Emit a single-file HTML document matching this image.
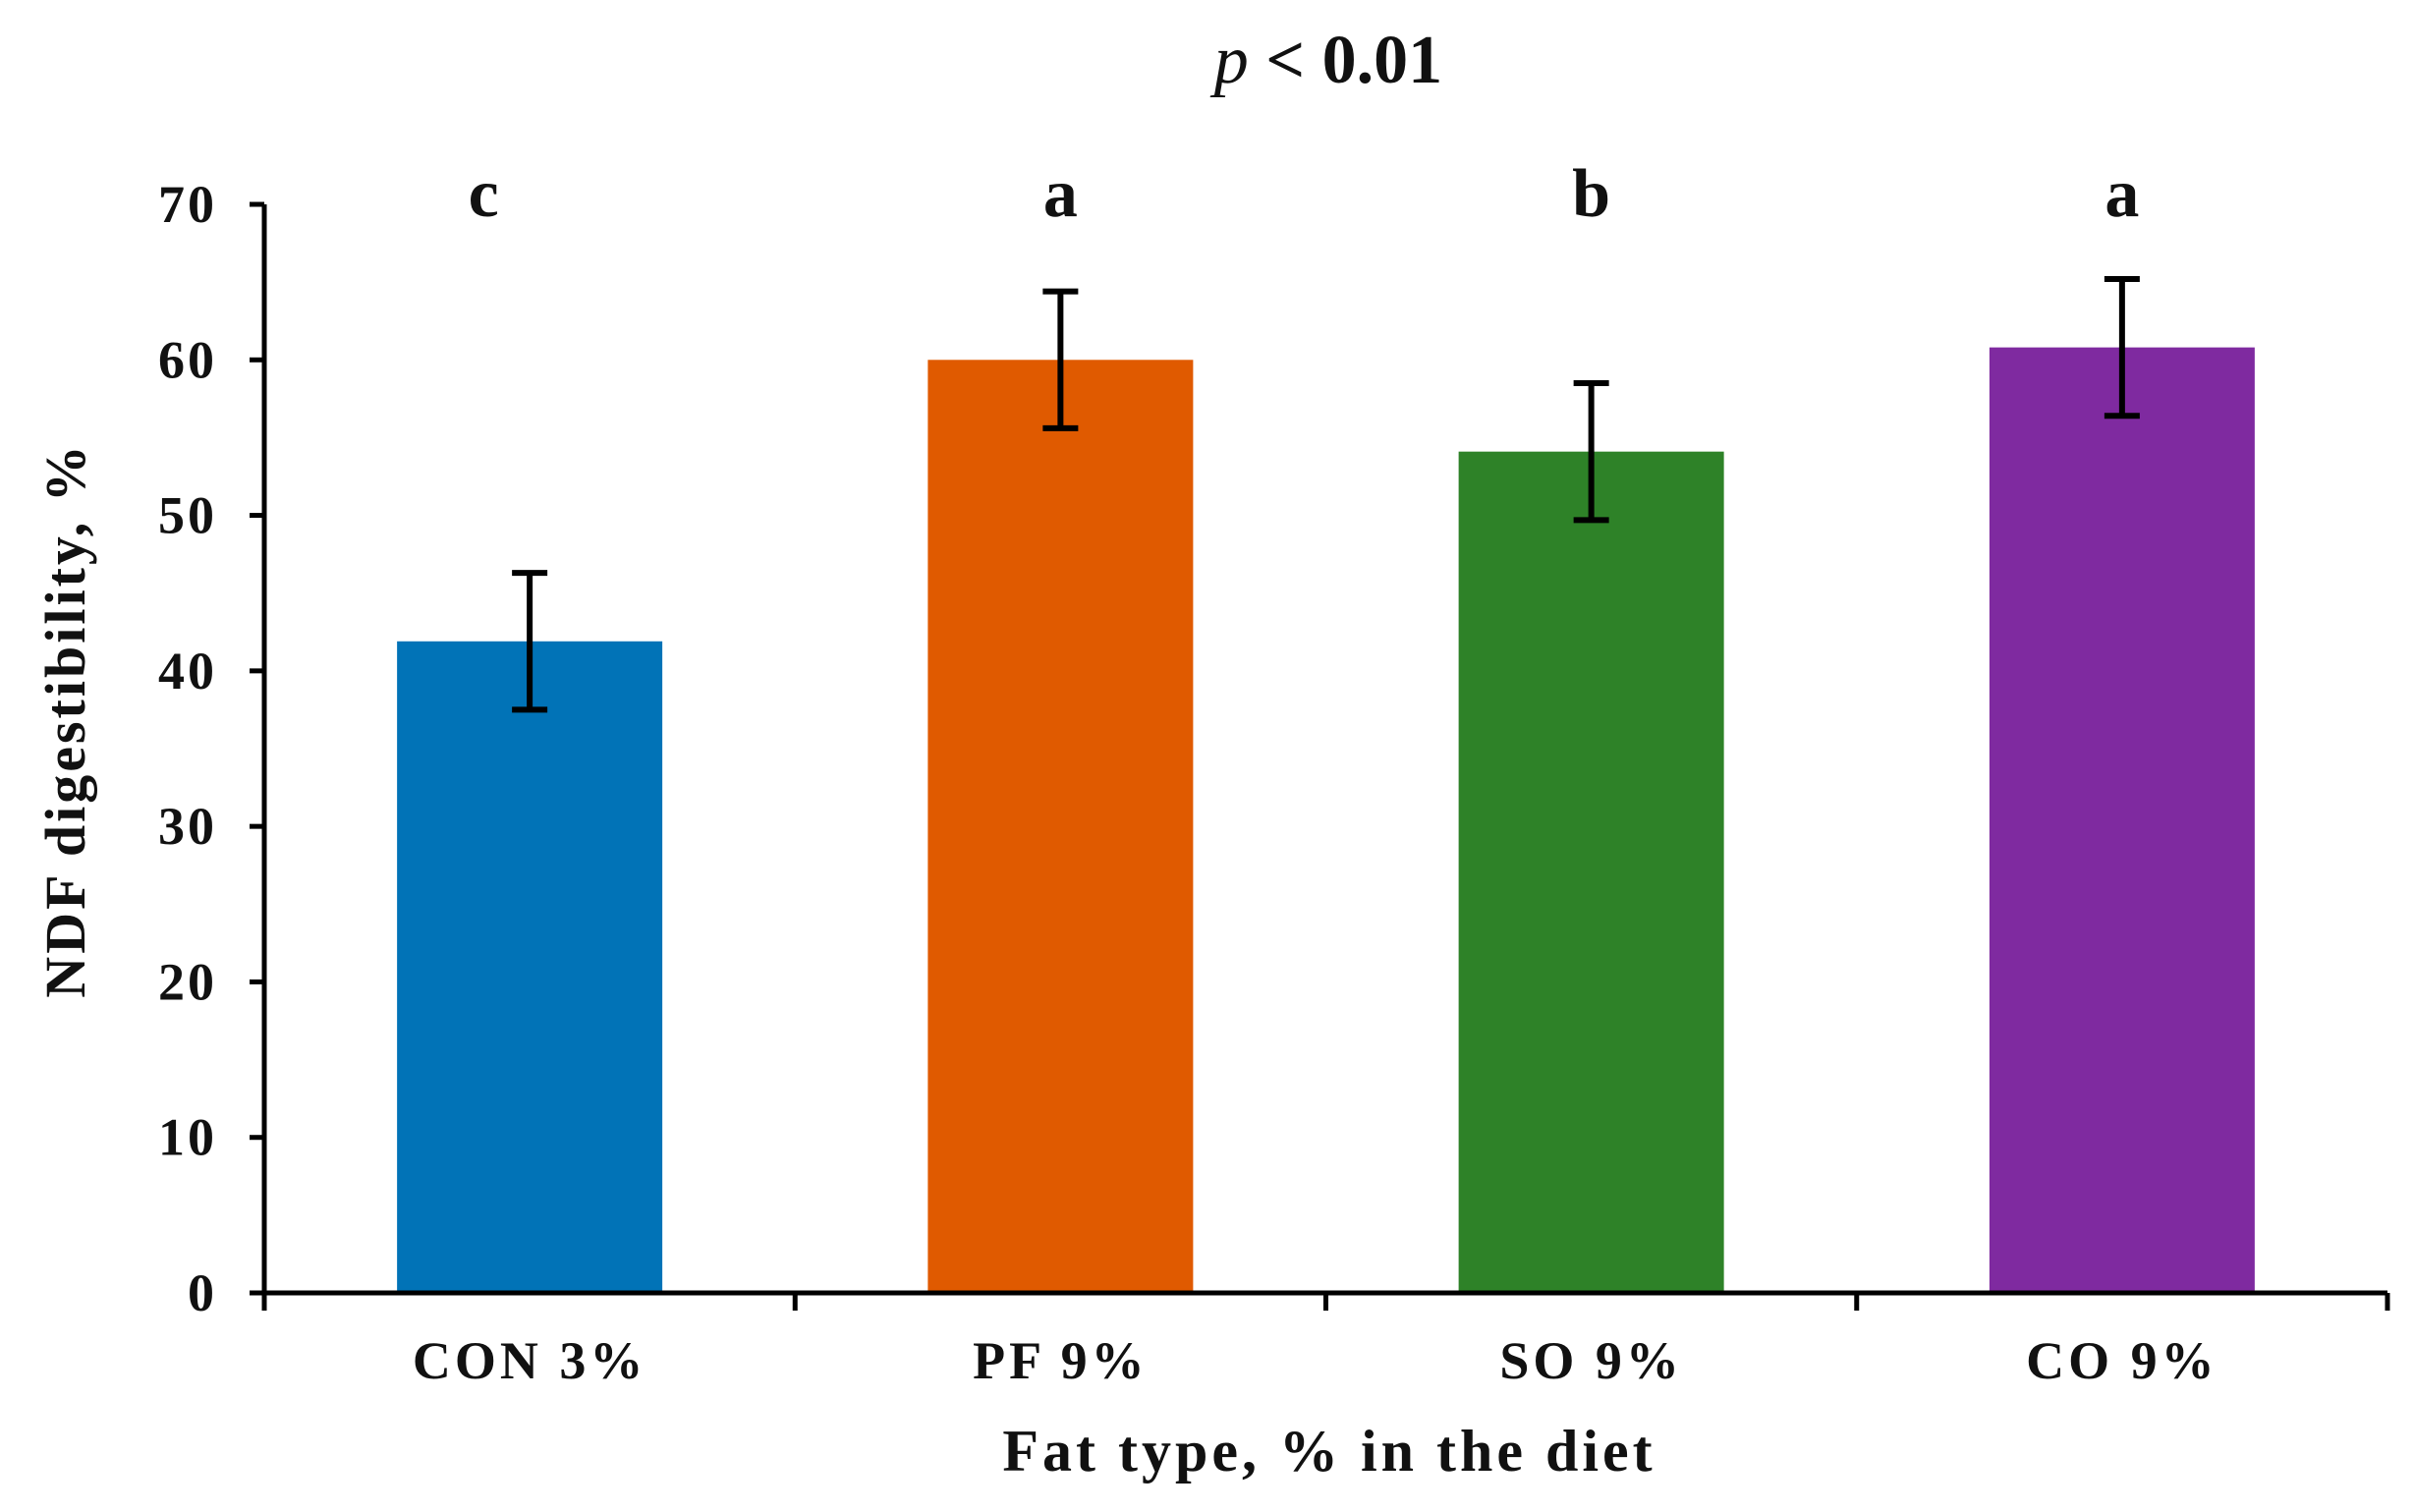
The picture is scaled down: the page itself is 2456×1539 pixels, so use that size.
<!DOCTYPE html>
<html><head><meta charset="utf-8"><style>
html,body{margin:0;padding:0;background:#fff;}
svg{display:block;}
text{font-family:"Liberation Serif",serif;font-weight:bold;fill:#111;}
</style></head><body>
<svg id="chart" width="2456" height="1539" viewBox="0 0 2456 1539" xmlns="http://www.w3.org/2000/svg">
<text x="1352" y="84" font-size="70" text-anchor="middle"><tspan font-style="italic" font-weight="normal">p</tspan> &lt; 0.01</text>
<text transform="translate(86,733) rotate(-90)" font-size="58" text-anchor="middle" letter-spacing="3">NDF digestibility, %</text>
<text x="1353" y="1497" font-size="60" text-anchor="middle" letter-spacing="4">Fat type, % in the diet</text>
<g id="plot"></g>
</svg>
<script>
const categories = ["CON 3%", "PF 9%", "SO 9%", "CO 9%"];
const values = [41.9, 60.0, 54.1, 60.8];
const errors = [4.4, 4.4, 4.4, 4.4];
const letters = ["c", "a", "b", "a"];
const colors = ["#0173b7", "#e05a00", "#2e8228", "#7f2aa0"];
const yTicks = [0, 10, 20, 30, 40, 50, 60, 70];

const NS = "http://www.w3.org/2000/svg";
const g = document.getElementById("plot");
const x0 = 269, x1 = 2430, yBase = 1316, yTop = 208, yMax = 70;
const band = (x1 - x0) / categories.length;
const barW = 270;
function y(v){ return yBase - (v / yMax) * (yBase - yTop); }
function xc(i){ return x0 + band * (i + 0.5); }
function mk(tag, attrs){ const e = document.createElementNS(NS, tag); for (const k in attrs) e.setAttribute(k, attrs[k]); g.appendChild(e); return e; }

categories.forEach((c, i) => {
  const b = mk("rect", {x: xc(i) - barW/2, y: y(values[i]), width: barW, height: yBase - y(values[i]), fill: colors[i]});
  
  
  const hi = y(values[i] + errors[i]), lo = y(values[i] - errors[i]);
  const eg = document.createElementNS(NS, "g");
  
  
  g.appendChild(eg);
  [[xc(i), hi, xc(i), lo], [xc(i)-18, hi, xc(i)+18, hi], [xc(i)-18, lo, xc(i)+18, lo]].forEach(p => {
    const l = document.createElementNS(NS, "line");
    l.setAttribute("x1", p[0]); l.setAttribute("y1", p[1]); l.setAttribute("x2", p[2]); l.setAttribute("y2", p[3]);
    l.setAttribute("stroke", "#000"); l.setAttribute("stroke-width", "6");
    eg.appendChild(l);
  });
  const t = mk("text", {x: xc(i), y: 1403, "font-size": 54, "text-anchor": "middle", "letter-spacing": 4});
  t.textContent = c;
  
  
  const lt = mk("text", {x: xc(i) - (i === 0 ? 47 : 0), y: 220, "font-size": 70, "text-anchor": "middle"});
  lt.textContent = letters[i];
  
  
});

const ya = mk("line", {x1: x0, y1: yTop, x2: x0, y2: yBase + 18, stroke: "#000", "stroke-width": 5});


const xa = mk("line", {x1: x0 - 15, y1: yBase, x2: x1, y2: yBase, stroke: "#000", "stroke-width": 5});


for (let i = 0; i <= categories.length; i++) {
  const tk = mk("line", {x1: x0 + band*i, y1: yBase, x2: x0 + band*i, y2: yBase + 18, stroke: "#000", "stroke-width": 5});
  
  
}
yTicks.forEach(v => {
  const tk = mk("line", {x1: x0 - 15, y1: y(v), x2: x0, y2: y(v), stroke: "#000", "stroke-width": 5});
  
  
  const t = mk("text", {x: 221, y: y(v) + 18, "font-size": 54, "text-anchor": "end", "letter-spacing": 3});
  t.textContent = v;
  
  
});
</script>
</body></html>
